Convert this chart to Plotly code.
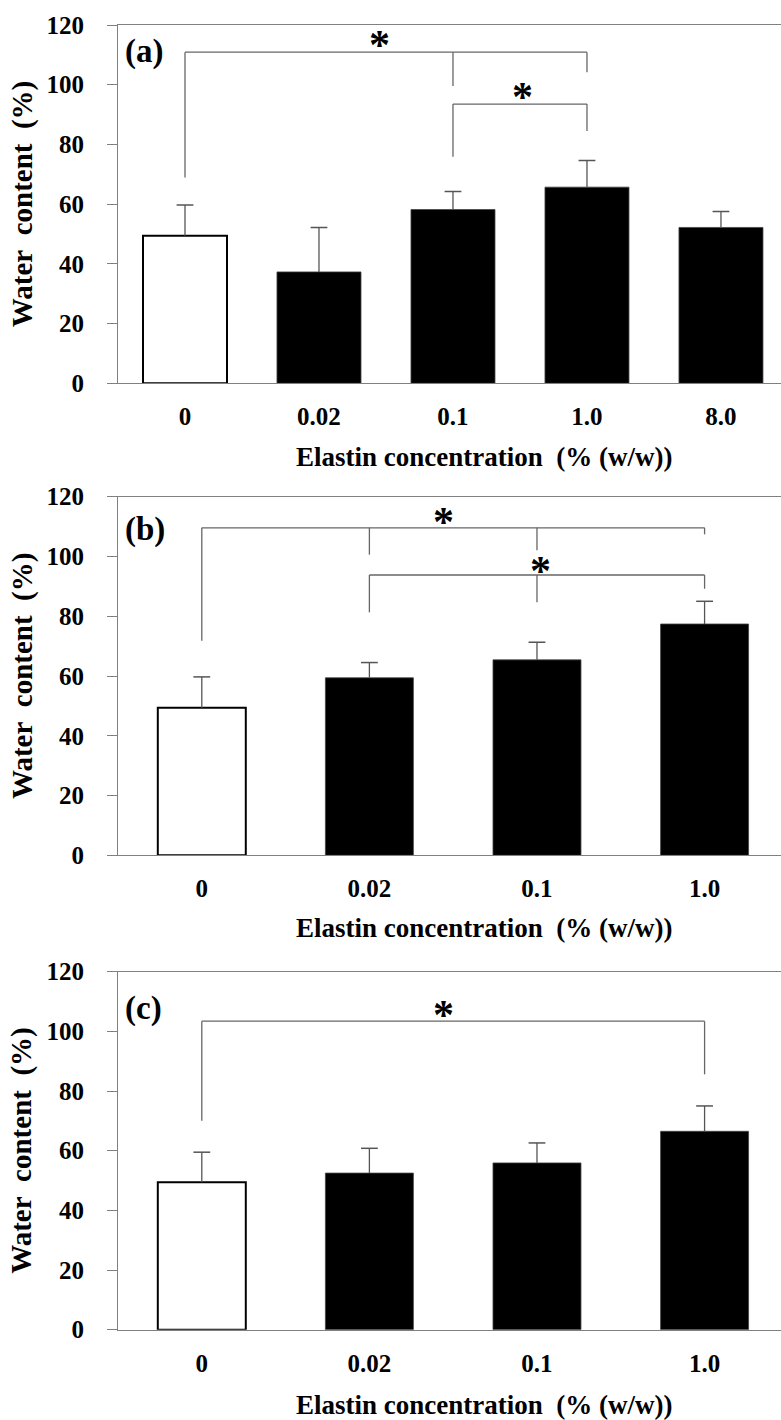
import plotly.graph_objects as go

# ---------------- data ----------------
cats_a = ["0", "0.02", "0.1", "1.0", "8.0"]
mean_a = [49.4, 37.3, 58.2, 65.7, 52.2]
err_a = [10.3, 14.9, 6.0, 8.9, 5.3]

cats_b = ["0", "0.02", "0.1", "1.0"]
mean_b = [49.4, 59.4, 65.4, 77.4]
err_b = [10.3, 5.1, 5.9, 7.6]

cats_c = ["0", "0.02", "0.1", "1.0"]
mean_c = [49.4, 52.5, 55.9, 66.5]
err_c = [10.1, 8.3, 6.7, 8.5]

y_ticks = [0, 20, 40, 60, 80, 100, 120]
panel_labels = ["(a)", "(b)", "(c)"]
x_title = "Elastin concentration\u00a0 (% (w/w))"
y_title = "Water\u00a0 content\u00a0 (%)"

# significance brackets: (x_start, x_end, y_top, [(leg_x, leg_bottom), ...], star_x, star_y)
brackets_a = [
    (0, 3, 110.9, [(0, 68.9), (2, 99.6), (3, 104.2)], 1.45, 116.0),
    (2, 3, 93.5, [(2, 75.9), (3, 84.5)], 2.52, 98.6),
]
brackets_b = [
    (0, 3, 109.6, [(0, 71.8), (1, 100.6), (2, 102.1), (3, 107.4)], 1.44, 114.2),
    (1, 3, 93.8, [(1, 81.3), (2, 84.7), (3, 89.2)], 2.02, 97.8),
]
brackets_c = [
    (0, 3, 103.4, [(0, 70.0), (3, 85.6)], 1.44, 108.2),
]

# ---------------- layout constants ----------------
W, H = 781, 1420
FONT = "Liberation Serif"
AXC = "#808080"
ERRC = "#555555"

panels = [
    dict(cats=cats_a, mean=mean_a, err=err_a, br=brackets_a, top=25.0, bot=383.3, bw=0.627, xr=[-0.5, 4.448], lab_y=52, title_y=457),
    dict(cats=cats_b, mean=mean_b, err=err_b, br=brackets_b, top=496.7, bot=855.3, bw=0.525, xr=[-0.5, 3.456], lab_y=530, title_y=928),
    dict(cats=cats_c, mean=mean_c, err=err_c, br=brackets_c, top=971.7, bot=1329.7, bw=0.525, xr=[-0.5, 3.456], lab_y=1008, title_y=1405),
]

fig = go.Figure()
layout = dict(
    width=W, height=H,
    margin=dict(l=0, r=0, t=0, b=0, autoexpand=False),
    plot_bgcolor="white", paper_bgcolor="white",
    showlegend=False,
    font=dict(family=FONT, color="black"),
)
shapes = []
annotations = []
x_left = 118 / W

for i, p in enumerate(panels):
    n = i + 1
    xa = "x" if n == 1 else f"x{n}"
    ya = "y" if n == 1 else f"y{n}"
    xkey = "xaxis" if n == 1 else f"xaxis{n}"
    ykey = "yaxis" if n == 1 else f"yaxis{n}"
    idx = list(range(len(p["cats"])))
    colors = ["white"] + ["black"] * (len(idx) - 1)
    lcolors = ["black"] + ["#444444"] * (len(idx) - 1)
    lwidths = [2] + [0.8] * (len(idx) - 1)
    fig.add_trace(go.Bar(
        x=idx, y=p["mean"], width=p["bw"],
        marker=dict(color=colors, line=dict(color=lcolors, width=lwidths)),
        xaxis=xa, yaxis=ya, hoverinfo="skip",
    ))
    # one-sided (upper) error bars: stem + cap, built from mean and err arrays
    ex, ey = [], []
    for k in idx:
        ex += [k, k, None]
        ey += [p["mean"][k], p["mean"][k] + p["err"][k], None]
    fig.add_trace(go.Scatter(
        x=ex, y=ey, mode="lines", line=dict(color=ERRC, width=1.3),
        xaxis=xa, yaxis=ya, hoverinfo="skip",
    ))
    fig.add_trace(go.Scatter(
        x=idx, y=[m + e for m, e in zip(p["mean"], p["err"])], mode="markers",
        marker=dict(symbol="line-ew", size=12, line=dict(color=ERRC, width=1.5)),
        xaxis=xa, yaxis=ya, hoverinfo="skip",
    ))
    ydom = [1 - p["bot"] / H, 1 - p["top"] / H]
    layout[xkey] = dict(
        domain=[x_left, 1.0], anchor=ya, range=p["xr"], automargin=False,
        tickvals=idx, ticktext=p["cats"], ticks="",
        showline=True, linecolor=AXC, linewidth=1.2, mirror=True,
        showgrid=False, zeroline=False,
        tickfont=dict(family=FONT, size=25, color="black", weight="bold"),
        ticklabelstandoff=11,
    )
    layout[ykey] = dict(
        domain=ydom, anchor=xa, range=[0, 120], automargin=False,
        tickvals=y_ticks, ticks="outside", ticklen=10, tickcolor=AXC, tickwidth=1.2,
        showline=True, linecolor=AXC, linewidth=1.2,
        showgrid=False, zeroline=False,
        tickfont=dict(family=FONT, size=25, color="black", weight="bold"),
        ticklabelstandoff=18,
    )
    # brackets
    for (x0, x1, ytop, legs, sx, sy) in p["br"]:
        shapes.append(dict(type="line", xref=xa, yref=ya, x0=x0, x1=x1, y0=ytop, y1=ytop,
                           line=dict(color="#666666", width=1.3)))
        for (lx, lb) in legs:
            shapes.append(dict(type="line", xref=xa, yref=ya, x0=lx, x1=lx, y0=ytop, y1=lb,
                               line=dict(color="#666666", width=1.3)))
        annotations.append(dict(text="*", xref=xa, yref=ya, x=sx, y=sy, showarrow=False,
                                xanchor="center", yanchor="middle", yshift=-8,
                                font=dict(family=FONT, size=42, color="black", weight="bold")))
    # panel label
    annotations.append(dict(text=panel_labels[i], xref="paper", yref="paper",
                            x=123 / W, y=1 - p["lab_y"] / H, xanchor="left", yanchor="middle",
                            showarrow=False,
                            font=dict(family=FONT, size=33, color="black", weight="bold")))
    # x title
    annotations.append(dict(text=x_title, xref="paper", yref="paper",
                            x=484 / W, y=1 - p["title_y"] / H, xanchor="center", yanchor="middle",
                            showarrow=False,
                            font=dict(family=FONT, size=27, color="black", weight="bold")))
    # y title
    annotations.append(dict(text=y_title, xref="paper", yref="paper",
                            x=22 / W, y=1 - (p["top"] + p["bot"]) / 2 / H,
                            xanchor="center", yanchor="middle", textangle=-90,
                            showarrow=False,
                            font=dict(family=FONT, size=29, color="black", weight="bold")))

layout["shapes"] = shapes
layout["annotations"] = annotations
fig.update_layout(**layout)
fig.write_html("out.html")
